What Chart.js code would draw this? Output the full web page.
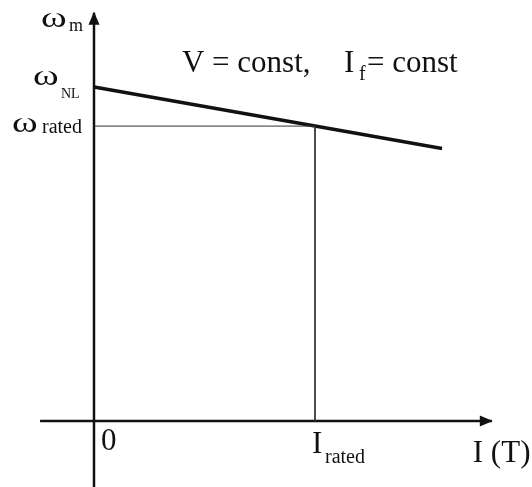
<!DOCTYPE html>
<html>
<head>
<meta charset="utf-8">
<title>Speed-torque characteristic</title>
<script src="https://cdn.jsdelivr.net/npm/chart.js@4/dist/chart.umd.min.js"></script>
<style>
  html, body { margin: 0; padding: 0; background: #fff; }
  #wrap { width: 532px; height: 487px; }
</style>
</head>
<body>
<div id="wrap"><canvas id="speedChart" width="532" height="487"></canvas></div>
<script>
// Speed vs armature current (per unit of rated current / no-load speed)
const currentPts = [0, 1.0, 1.575];
const speedPts = [1.0, 0.883, 0.816];
const ratedCurrent = 1.0;
const ratedSpeed = 0.883;
const noLoadSpeed = 1.0;

// Axis extents (where the drawn axis lines start and end)
const xAxisEnds = [-0.244, 1.80];
const yAxisEnds = [-0.21, 1.222];

const FONT = '"Liberation Serif", "Times New Roman", serif';

// Text pieces: anchor in data units plus a pixel nudge; sx stretches wide glyphs
const labels = [
  { t: "ω", x: 0, y: yAxisEnds[1], dx: -53, dy: 14, size: 30, sx: 1.3 },
  { t: "m", x: 0, y: yAxisEnds[1], dx: -25, dy: 18, size: 18 },
  { t: "ω", x: 0, y: noLoadSpeed, dx: -61, dy: -2, size: 30, sx: 1.3 },
  { t: "NL", x: 0, y: noLoadSpeed, dx: -33, dy: 11, size: 14 },
  { t: "ω", x: 0, y: ratedSpeed, dx: -82, dy: 6, size: 30, sx: 1.3 },
  { t: "rated", x: 0, y: ratedSpeed, dx: -52, dy: 7, size: 20 },
  { t: "V = const,", x: 0.398, y: 1.045, dx: 0, dy: 0, size: 31 },
  { t: "I", x: 0.398, y: 1.045, dx: 162, dy: 0, size: 31 },
  { t: "f", x: 0.398, y: 1.045, dx: 177, dy: 8, size: 20 },
  { t: "= const", x: 0.398, y: 1.045, dx: 185, dy: 0, size: 31 },
  { t: "0", x: 0, y: 0, dx: 7, dy: 29, size: 31 },
  { t: "I", x: ratedCurrent, y: 0, dx: -3, dy: 32, size: 31 },
  { t: "rated", x: ratedCurrent, y: 0, dx: 10, dy: 42, size: 20 },
  { t: "I (T)", x: xAxisEnds[1], y: 0, dx: -19, dy: 41, size: 31 }
];

const toPts = (xs, ys) => xs.map((x, i) => ({ x, y: ys[i] }));

// Arrow heads at the positive ends of both axes, and the text
const decorations = {
  id: "decorations",
  afterDatasetsDraw(chart) {
    const { ctx, scales: { x, y } } = chart;
    ctx.save();
    ctx.fillStyle = "#111";

    // y axis arrow
    const yx = x.getPixelForValue(0);
    const yt = y.getPixelForValue(yAxisEnds[1]);
    ctx.beginPath();
    ctx.moveTo(yx, yt - 1);
    ctx.lineTo(yx - 5.5, yt + 12);
    ctx.lineTo(yx + 5.5, yt + 12);
    ctx.closePath();
    ctx.fill();

    // x axis arrow
    const xt = x.getPixelForValue(xAxisEnds[1]);
    const xy = y.getPixelForValue(0);
    ctx.beginPath();
    ctx.moveTo(xt + 1, xy);
    ctx.lineTo(xt - 12, xy - 5.5);
    ctx.lineTo(xt - 12, xy + 5.5);
    ctx.closePath();
    ctx.fill();

    ctx.textBaseline = "alphabetic";
    ctx.textAlign = "left";
    labels.forEach(l => {
      ctx.save();
      ctx.font = l.size + "px " + FONT;
      ctx.translate(x.getPixelForValue(l.x) + l.dx, y.getPixelForValue(l.y) + l.dy);
      ctx.scale(l.sx || 1, 1);
      ctx.fillText(l.t, 0, 0);
      ctx.restore();
    });
    ctx.restore();
  }
};

const line = (data, width, color) => ({
  data,
  showLine: true,
  borderColor: color,
  borderWidth: width,
  pointRadius: 0,
  fill: false,
  tension: 0
});

new Chart(document.getElementById("speedChart"), {
  type: "scatter",
  data: {
    datasets: [
      line([{ x: 0, y: ratedSpeed }, { x: ratedCurrent, y: ratedSpeed }, { x: ratedCurrent, y: 0 }], 1, "#333"),
      line([{ x: xAxisEnds[0], y: 0 }, { x: xAxisEnds[1], y: 0 }], 2.5, "#111"),
      line([{ x: 0, y: yAxisEnds[0] }, { x: 0, y: yAxisEnds[1] }], 2.5, "#111"),
      line(toPts(currentPts, speedPts), 3.5, "#111")
    ]
  },
  options: {
    responsive: false,
    animation: false,
    layout: { padding: 0 },
    plugins: { legend: { display: false }, tooltip: { enabled: false } },
    scales: {
      x: { type: "linear", display: false, min: -0.4253, max: 1.9819 },
      y: { type: "linear", display: false, min: -0.1976, max: 1.2605 }
    }
  },
  plugins: [decorations]
});
</script>
</body>
</html>
